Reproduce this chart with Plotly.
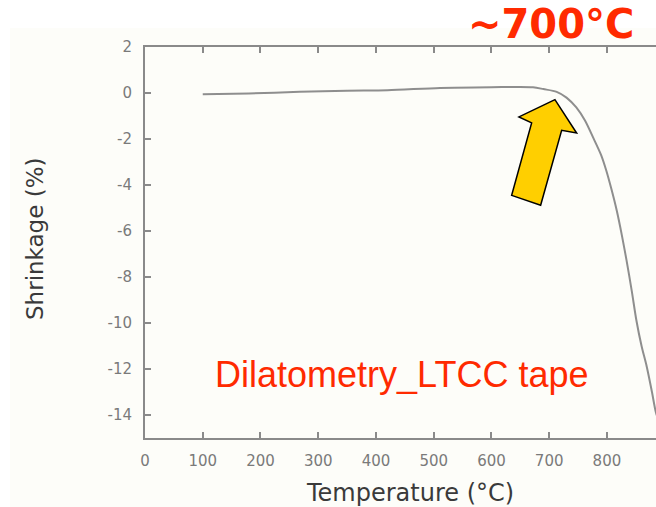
import plotly.graph_objects as go

# Data
temperature_c = [100, 180, 268, 350, 420, 511, 600, 672, 690, 713, 730, 747, 762,
                 776, 790, 799, 808, 817, 826, 834, 843, 851, 860, 869, 878, 885, 895]
shrinkage_pct = [-0.05, -0.02, 0.05, 0.10, 0.12, 0.22, 0.25, 0.25, 0.17, 0.05, -0.20,
                 -0.63, -1.20, -1.93, -2.70, -3.38, -4.20, -5.11, -6.20, -7.28, -8.60,
                 -9.88, -11.00, -11.90, -13.00, -13.90, -14.60]
x_ticks = [0, 100, 200, 300, 400, 500, 600, 700, 800]
y_ticks = [2, 0, -2, -4, -6, -8, -10, -12, -14]

# block arrow outline (data coordinates)
arrow_x = [710, 647.6, 669.6, 635, 685.2, 721.6, 747.5]
arrow_y = [-0.29, -1.04, -1.30, -4.45, -4.88, -1.62, -1.74]

W, H = 656, 507
L, R, T, B = 145, 0, 47, 69
pw, ph = W - L - R, H - T - B

def px(xp):
    return (xp - L) / pw

def py(yp):
    return (H - B - yp) / ph

fig = go.Figure()
fig.add_trace(go.Scatter(x=temperature_c, y=shrinkage_pct, mode="lines",
                         line=dict(color="#8e8e8e", width=2, shape="spline", smoothing=0.8),
                         hoverinfo="skip", showlegend=False))

path = "M " + " L ".join(f"{x},{y}" for x, y in zip(arrow_x, arrow_y)) + " Z"

fig.update_layout(
    width=W, height=H,
    margin=dict(l=L, r=R, t=T, b=B, pad=0),
    paper_bgcolor="white",
    plot_bgcolor="rgba(0,0,0,0)",
    showlegend=False,
    font=dict(family="DejaVu Sans", color="#7a7a7a", size=15),
    shapes=[
        dict(type="rect", xref="paper", yref="paper", x0=px(10), x1=1.0,
             y0=py(H), y1=py(28), fillcolor="#fdfdf9", line=dict(width=0),
             layer="below"),
        dict(type="path", xref="x", yref="y", path=path, fillcolor="#ffcf00",
             line=dict(color="black", width=1.5), layer="above"),
    ],
    annotations=[
        dict(text="~700°C", xref="paper", yref="paper", x=px(551), y=py(24),
             xanchor="center", yanchor="middle", showarrow=False,
             font=dict(family="DejaVu Sans", size=40, color="#ff2a00", weight="bold")),
        dict(text="Dilatometry_LTCC tape", xref="paper", yref="paper", x=px(401.5), y=py(374),
             xanchor="center", yanchor="middle", showarrow=False,
             font=dict(family="Liberation Sans", size=36, color="#ff2a00")),
        dict(text="Temperature (°C)", xref="paper", yref="paper", x=px(410), y=py(493),
             xanchor="center", yanchor="middle", showarrow=False,
             font=dict(family="DejaVu Sans", size=24, color="#3a3a3a")),
        dict(text="Shrinkage (%)", xref="paper", yref="paper", x=px(35), y=py(239),
             xanchor="center", yanchor="middle", showarrow=False, textangle=-90,
             font=dict(family="DejaVu Sans", size=23, color="#3a3a3a")),
    ],
)

fig.update_xaxes(range=[0, 885], tickvals=x_ticks, ticktext=[str(v) for v in x_ticks],
                 showgrid=False, zeroline=False, showline=True, linecolor="#8a8a8a",
                 linewidth=2, ticks="inside", ticklen=6, tickwidth=1.5,
                 tickcolor="#8a8a8a", mirror="ticks", ticklabelstandoff=8,
                 tickfont=dict(family="DejaVu Sans", size=15, color="#7a7a7a"))
fig.update_yaxes(range=[-15, 2], tickvals=y_ticks, ticktext=[str(v) for v in y_ticks],
                 showgrid=False, zeroline=False, showline=True, linecolor="#8a8a8a",
                 linewidth=2, ticks="inside", ticklen=6, tickwidth=1.5,
                 tickcolor="#8a8a8a", ticklabelstandoff=8,
                 tickfont=dict(family="DejaVu Sans", size=15, color="#7a7a7a"))

fig.write_html("out.html", config={"displayModeBar": False},
               post_script="document.body.style.margin='0px';document.body.style.overflow='hidden';")
